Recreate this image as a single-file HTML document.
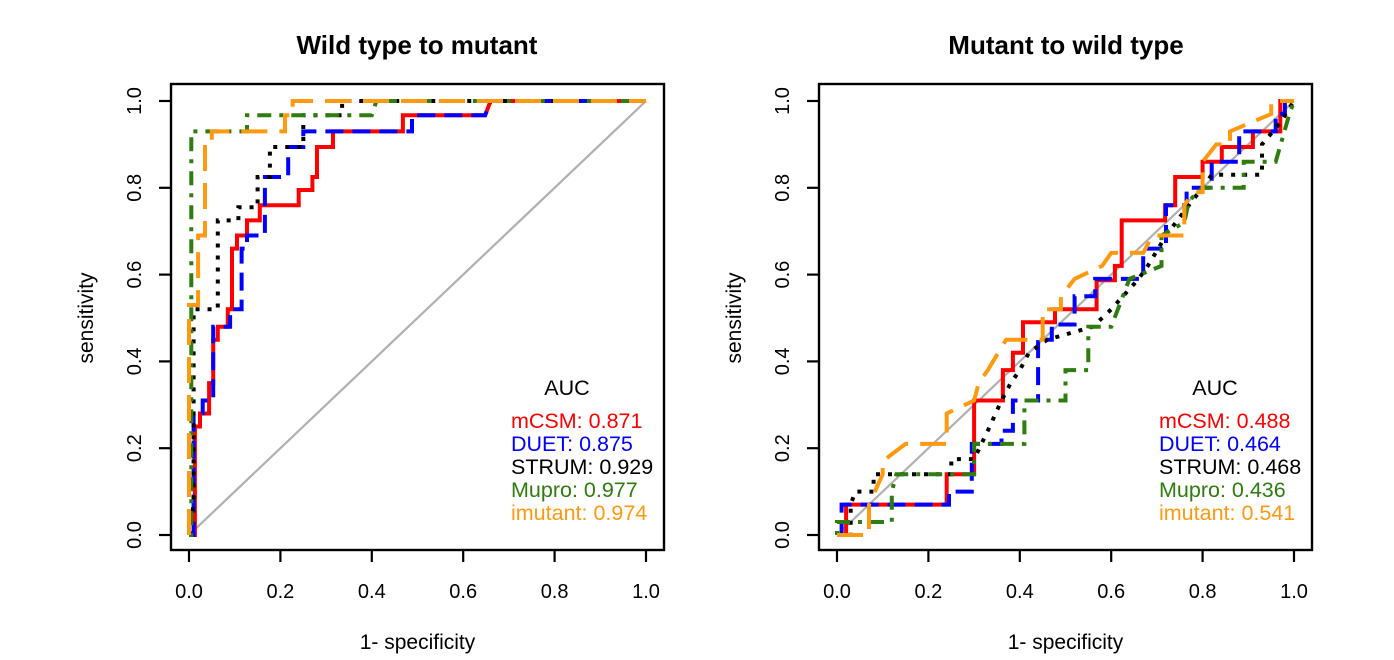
<!DOCTYPE html>
<html><head><meta charset="utf-8"><style>
html,body{margin:0;padding:0;background:#fff;}
svg{display:block;font-family:"Liberation Sans",Arial,sans-serif;}
</style></head><body>
<svg id="c" width="1394" height="660" viewBox="0 0 1394 660" xmlns="http://www.w3.org/2000/svg"></svg>
<script>
const ticks=[0,0.2,0.4,0.6,0.8,1.0];
const tickLabels=["0.0","0.2","0.4","0.6","0.8","1.0"];
const seriesNames=["mCSM","DUET","STRUM","Mupro","imutant"];
const aucLeft=["0.871","0.875","0.929","0.977","0.974"];
const aucRight=["0.488","0.464","0.468","0.436","0.541"];

// Left panel (Wild type to mutant) data: x = 1-specificity, y = sensitivity
const L_mcsm_x=[0,0.013,0.013,0.024,0.024,0.044,0.044,0.053,0.053,0.063,0.063,0.085,0.085,0.094,0.094,0.105,0.105,0.127,0.127,0.155,0.155,0.24,0.24,0.27,0.27,0.28,0.28,0.315,0.315,0.468,0.468,0.648,0.66,1];
const L_mcsm_y=[0,0,0.25,0.25,0.28,0.28,0.35,0.35,0.45,0.45,0.48,0.48,0.52,0.52,0.66,0.66,0.69,0.69,0.725,0.725,0.76,0.76,0.795,0.795,0.825,0.825,0.894,0.894,0.93,0.93,0.967,0.967,1,1];
const L_duet_x=[0,0.01,0.01,0.03,0.03,0.053,0.053,0.09,0.09,0.115,0.115,0.127,0.127,0.166,0.166,0.217,0.217,0.25,0.25,0.488,0.488,0.648,0.66,1];
const L_duet_y=[0,0,0.28,0.28,0.31,0.31,0.48,0.48,0.52,0.52,0.66,0.66,0.69,0.69,0.825,0.825,0.894,0.894,0.93,0.93,0.967,0.967,1,1];
const L_strum_x=[0,0.01,0.01,0.063,0.063,0.108,0.108,0.15,0.15,0.177,0.177,0.25,0.25,0.335,0.335,1];
const L_strum_y=[0,0.07,0.52,0.52,0.725,0.725,0.755,0.755,0.825,0.825,0.894,0.894,0.967,0.967,1,1];
const L_mupro_x=[0,0.005,0.005,0.127,0.127,0.4,0.41,1];
const L_mupro_y=[0,0,0.93,0.93,0.967,0.967,1,1];
const L_imut_x=[0,0,0.02,0.02,0.035,0.035,0.05,0.05,0.21,0.21,0.227,0.227,1];
const L_imut_y=[0,0.53,0.53,0.69,0.69,0.894,0.894,0.93,0.93,0.967,0.967,1,1];

// Right panel (Mutant to wild type) data
const R_mcsm_x=[0,0.02,0.02,0.24,0.24,0.30,0.30,0.363,0.363,0.385,0.385,0.407,0.407,0.477,0.477,0.568,0.568,0.608,0.608,0.623,0.623,0.718,0.718,0.74,0.74,0.80,0.80,0.842,0.842,0.91,0.91,0.97,0.97,1];
const R_mcsm_y=[0,0,0.07,0.07,0.14,0.14,0.31,0.31,0.38,0.38,0.42,0.42,0.49,0.49,0.52,0.52,0.587,0.587,0.62,0.62,0.725,0.725,0.76,0.76,0.825,0.825,0.86,0.86,0.894,0.894,0.93,0.93,1,1];
const R_duet_x=[0,0.01,0.01,0.245,0.245,0.295,0.295,0.36,0.36,0.385,0.385,0.44,0.44,0.47,0.47,0.52,0.52,0.565,0.565,0.67,0.67,0.72,0.72,0.765,0.765,0.82,0.82,0.88,0.88,0.96,0.96,0.98,0.98,1];
const R_duet_y=[0,0,0.07,0.07,0.1,0.1,0.21,0.21,0.24,0.24,0.31,0.31,0.45,0.45,0.485,0.485,0.55,0.55,0.59,0.59,0.66,0.66,0.76,0.76,0.8,0.8,0.86,0.86,0.93,0.93,0.97,0.97,1,1];
const R_strum_x=[0,0.03,0.03,0.04,0.08,0.08,0.25,0.25,0.3,0.33,0.36,0.38,0.4,0.42,0.46,0.56,0.6,0.66,0.68,0.72,0.77,0.8,0.82,0.93,0.93,0.97,1];
const R_strum_y=[0,0,0.07,0.1,0.1,0.14,0.14,0.175,0.175,0.24,0.31,0.35,0.38,0.42,0.45,0.48,0.52,0.59,0.62,0.69,0.76,0.8,0.83,0.83,0.9,0.95,1];
const R_mupro_x=[0,0,0.12,0.12,0.13,0.3,0.3,0.41,0.41,0.5,0.5,0.55,0.55,0.6,0.64,0.71,0.71,0.76,0.77,0.8,0.89,0.89,0.96,0.99,1];
const R_mupro_y=[0,0.03,0.03,0.1,0.14,0.14,0.21,0.21,0.31,0.31,0.38,0.38,0.48,0.48,0.59,0.62,0.69,0.72,0.77,0.8,0.8,0.86,0.86,0.97,1];
const R_imut_x=[0,0.07,0.07,0.1,0.1,0.15,0.24,0.24,0.3,0.31,0.33,0.37,0.45,0.45,0.49,0.49,0.52,0.58,0.6,0.67,0.69,0.76,0.76,0.78,0.8,0.8,0.83,0.86,0.86,0.95,0.95,1];
const R_imut_y=[0,0,0.07,0.14,0.17,0.21,0.21,0.28,0.31,0.35,0.38,0.45,0.45,0.52,0.52,0.55,0.59,0.62,0.65,0.65,0.69,0.69,0.76,0.79,0.79,0.86,0.9,0.9,0.93,0.97,1,1];

const colors=["#ff0000","#0000ff","#000000","#2e7d0e","#ff9a10"];
const dashes=["none","18 9","4 8","4 8 14 8","26 12"];

const svg=document.getElementById('c');
const NS="http://www.w3.org/2000/svg";
function mk(tag,attrs,parent){const e=document.createElementNS(NS,tag);for(const k in attrs)e.setAttribute(k,attrs[k]);(parent||svg).appendChild(e);return e;}

function panel(p){
  const g=mk('g',{});
  
  
  const x0=p.x0, xs=457, y0=535, ys=434;
  const X=v=>x0+v*xs, Y=v=>y0-v*ys;
  const t=mk('text',{x:p.tc,y:54,'text-anchor':'middle','font-size':'26','font-weight':'bold',fill:'#000'},g);
  t.textContent=p.title;
  
  
  const d=mk('line',{x1:X(0),y1:Y(0),x2:X(1),y2:Y(1),stroke:'#b0b0b0','stroke-width':2.2},g);
  
  
  p.series.forEach((s,i)=>{
    let dd='';
    for(let k=0;k<s[0].length;k++){dd+=(k?'L':'M')+X(s[0][k]).toFixed(1)+' '+Y(s[1][k]).toFixed(1);}
    const pa=mk('path',{d:dd,fill:'none',stroke:colors[i],'stroke-width':4,'stroke-dasharray':dashes[i],'stroke-linejoin':'miter'},g);
    
    
  });
  const b=mk('rect',{x:x0-18,y:84,width:493,height:466,fill:'none',stroke:'#000','stroke-width':2.4},g);
  
  
  ticks.forEach((v,i)=>{
    const tx=mk('line',{x1:X(v),y1:550,x2:X(v),y2:562,stroke:'#000','stroke-width':2.2},g);
    
    
    const lx=mk('text',{x:X(v),y:598,'text-anchor':'middle','font-size':'20',fill:'#000'},g);
    lx.textContent=tickLabels[i];
    
    
    const ty=mk('line',{x1:x0-18,y1:Y(v),x2:x0-30,y2:Y(v),stroke:'#000','stroke-width':2.2},g);
    
    
    const ly=mk('text',{x:0,y:0,'text-anchor':'middle','font-size':'20',fill:'#000',transform:'translate('+(x0-48)+','+Y(v)+') rotate(-90)'},g);
    ly.textContent=tickLabels[i];
    
    
  });
  const xt=mk('text',{x:X(0.5),y:649,'text-anchor':'middle','font-size':'21',fill:'#000'},g);
  xt.textContent='1- specificity';
  
  
  const yt=mk('text',{x:0,y:0,'text-anchor':'middle','font-size':'21',fill:'#000',transform:'translate('+(x0-96)+','+Y(0.5)+') rotate(-90)'},g);
  yt.textContent='sensitivity';
  
  
  const lg=mk('g',{},g);
  
  
  const a=mk('text',{x:p.lx+56,y:395,'text-anchor':'middle','font-size':'21.5',fill:'#000'},lg);
  a.textContent='AUC';
  
  
  seriesNames.forEach((n,i)=>{
    const e=mk('text',{x:p.lx,y:428+i*23,'font-size':'21.5',fill:colors[i]},lg);
    e.textContent=n+': '+p.auc[i];
    
    
  });
}
panel({name:'left-panel-wild-to-mutant',title:'Wild type to mutant',x0:189,tc:417,lx:511,auc:aucLeft,
  series:[[L_mcsm_x,L_mcsm_y],[L_duet_x,L_duet_y],[L_strum_x,L_strum_y],[L_mupro_x,L_mupro_y],[L_imut_x,L_imut_y]]});
panel({name:'right-panel-mutant-to-wild',title:'Mutant to wild type',x0:837,tc:1066,lx:1159,auc:aucRight,
  series:[[R_mcsm_x,R_mcsm_y],[R_duet_x,R_duet_y],[R_strum_x,R_strum_y],[R_mupro_x,R_mupro_y],[R_imut_x,R_imut_y]]});
</script>
</body></html>
